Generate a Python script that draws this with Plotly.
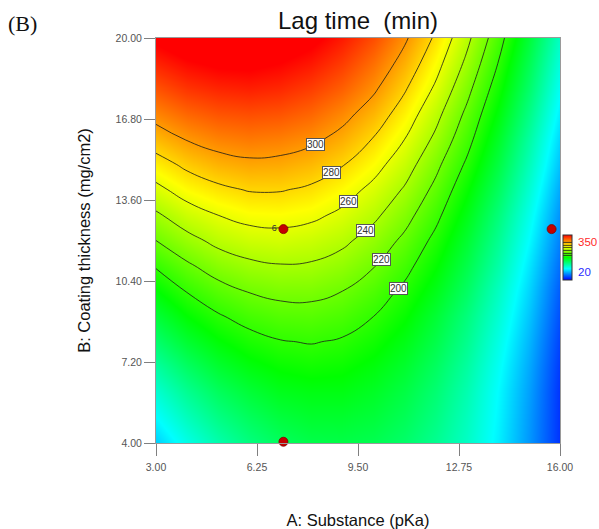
import numpy as np
import plotly.graph_objects as go

# A: Substance (pKa) grid values and B: Coating thickness (mg/cm2) grid values
substance_pka = [3, 4, 5, 6, 7, 8, 9, 10, 11, 12, 13, 14, 15, 16]
coating_thickness = [20, 19, 18, 17, 16, 15, 14, 13, 12, 11, 10, 9, 8, 7, 6, 5, 4]

# Lag time (min), estimated from the reference surface; rows follow coating_thickness
lag_time = [
    [354, 363, 367, 367, 363, 355, 342, 325, 303, 277, 245, 209, 167, 121],
    [339, 348, 353, 354, 350, 343, 331, 314, 293, 267, 236, 200, 159, 113],
    [323, 333, 338, 340, 337, 330, 319, 303, 282, 257, 226, 191, 151, 105],
    [307, 317, 323, 325, 323, 317, 306, 291, 271, 246, 216, 182, 142, 97],
    [290, 301, 308, 311, 309, 304, 294, 279, 260, 236, 207, 173, 133, 89],
    [272, 284, 292, 296, 295, 290, 281, 267, 249, 225, 197, 164, 125, 82],
    [255, 268, 276, 281, 281, 277, 268, 255, 238, 215, 187, 155, 117, 74],
    [237, 251, 260, 266, 267, 264, 256, 244, 227, 205, 178, 146, 109, 67],
    [220, 234, 245, 251, 253, 250, 244, 232, 216, 195, 169, 138, 102, 61],
    [202, 217, 229, 236, 239, 238, 232, 221, 206, 186, 161, 131, 95, 55],
    [184, 201, 213, 221, 225, 225, 220, 210, 196, 177, 153, 123, 89, 49],
    [167, 185, 198, 207, 212, 213, 209, 200, 187, 168, 145, 117, 84, 45],
    [150, 169, 183, 193, 199, 201, 198, 190, 178, 161, 139, 111, 79, 41],
    [133, 153, 169, 180, 187, 190, 188, 181, 170, 154, 133, 106, 75, 38],
    [117, 138, 155, 167, 176, 179, 179, 173, 163, 148, 128, 102, 72, 36],
    [102, 124, 142, 155, 165, 170, 170, 166, 157, 143, 124, 100, 70, 36],
    [87, 110, 129, 144, 155, 161, 162, 159, 151, 138, 121, 98, 69, 36],
]

# design points
design_a = [7.1, 7.1, 15.73]
design_b = [12.45, 4.05, 12.45]
design_labels = ["6", "", ""]

x_ticks = [3.00, 6.25, 9.50, 12.75, 16.00]
y_ticks = [4.00, 7.20, 10.40, 13.60, 16.80, 20.00]
color_min, color_max = 20, 350
contour_levels = [200, 220, 240, 260, 280, 300]

AX_FONT = "Arial, Liberation Sans, sans-serif"

# ---- contour label placement: where each level crosses a guide segment ----
_X = np.array(substance_pka, float)
_Y = np.array(coating_thickness[::-1], float)
_Z = np.array(lag_time[::-1], float)


def lag_at(a, b):
    i = int(min(max(np.searchsorted(_X, a) - 1, 0), len(_X) - 2))
    j = int(min(max(np.searchsorted(_Y, b) - 1, 0), len(_Y) - 2))
    tx = (a - _X[i]) / (_X[i + 1] - _X[i])
    ty = (b - _Y[j]) / (_Y[j + 1] - _Y[j])
    return (_Z[j, i] * (1 - tx) * (1 - ty) + _Z[j, i + 1] * tx * (1 - ty)
            + _Z[j + 1, i] * (1 - tx) * ty + _Z[j + 1, i + 1] * tx * ty)


guide_start, guide_end = (7.75, 16.65), (11.15, 9.35)
ts = np.linspace(0, 1, 600)
gx = guide_start[0] + (guide_end[0] - guide_start[0]) * ts
gy = guide_start[1] + (guide_end[1] - guide_start[1]) * ts
gv = np.array([lag_at(a, b) for a, b in zip(gx, gy)])

label_annotations = []
for lev in contour_levels:
    k = np.where((gv[:-1] - lev) * (gv[1:] - lev) <= 0)[0]
    if len(k) == 0:
        continue
    k = k[0]
    f = (lev - gv[k]) / (gv[k + 1] - gv[k]) if gv[k + 1] != gv[k] else 0
    label_annotations.append(dict(
        text=str(lev), x=gx[k] + f * (gx[k + 1] - gx[k]), y=gy[k] + f * (gy[k + 1] - gy[k]),
        xref="x", yref="y", showarrow=False, xanchor="center", yanchor="middle",
        bgcolor="white", bordercolor="#555555", borderwidth=1, borderpad=0,
        font=dict(family=AX_FONT, size=10, color="#333333")))

fig = go.Figure()
fig.add_trace(go.Contour(
    x=substance_pka, y=coating_thickness, z=lag_time,
    zmin=color_min, zmax=color_max,
    colorscale=[[0, "#0000ff"], [0.25, "#00ffff"], [0.5, "#00ff00"],
                [0.75, "#ffff00"], [1, "#ff0000"]],
    contours=dict(coloring="heatmap", start=contour_levels[0], end=contour_levels[-1],
                  size=contour_levels[1] - contour_levels[0], showlabels=False),
    line=dict(color="#1a1a1a", width=0.8, smoothing=1.3),
    colorbar=dict(x=1.007, xanchor="left", y=0.459, yanchor="middle",
                  lenmode="pixels", len=45, thickness=9,
                  showticklabels=False, ticks="",
                  outlinecolor="#333333", outlinewidth=1, xpad=0, ypad=0),
    hoverinfo="skip",
))
fig.add_trace(go.Scatter(
    x=design_a, y=design_b, mode="markers+text",
    text=design_labels, textposition="middle left",
    textfont=dict(family=AX_FONT, size=9, color="#333333"),
    marker=dict(size=9, color="#c40000", line=dict(color="#800000", width=0.8)),
    cliponaxis=False, showlegend=False, hoverinfo="skip",
))

W, H = 599, 529
fig.update_layout(
    width=W, height=H,
    margin=dict(l=156, r=39, t=38, b=86, autoexpand=False),
    paper_bgcolor="white", plot_bgcolor="white",
    showlegend=False,
    title=dict(text="Lag time\u00a0\u00a0(min)", x=0.5, xref="paper", xanchor="center",
               y=1 - 20.3 / H, yref="container", yanchor="middle",
               font=dict(family=AX_FONT, size=24, color="#111111")),
    xaxis=dict(range=[3, 16], tickvals=x_ticks, tickformat=".2f", automargin=False,
               ticks="outside", ticklen=12, tickcolor="#808080", tickwidth=1,
               ticklabelstandoff=2,
               showline=True, linecolor="#9a9a9a", linewidth=1, mirror=True,
               showgrid=False, zeroline=False,
               tickfont=dict(family=AX_FONT, size=10.5, color="#555555"),
               title=dict(text="A: Substance (pKa)", standoff=44,
                          font=dict(family=AX_FONT, size=16.5, color="#111111"))),
    yaxis=dict(range=[4, 20], tickvals=y_ticks, tickformat=".2f", automargin=False,
               ticks="outside", ticklen=11, tickcolor="#808080", tickwidth=1,
               showline=True, linecolor="#9a9a9a", linewidth=1, mirror=True,
               showgrid=False, zeroline=False,
               tickfont=dict(family=AX_FONT, size=10.5, color="#555555"),
               title=dict(text="B: Coating thickness (mg/cm2)", standoff=20,
                          font=dict(family=AX_FONT, size=16.5, color="#111111"))),
    annotations=label_annotations + [
        dict(text="(B)", xref="paper", yref="paper", x=-150 / 404, y=(443 - 23.3) / 405,
             xanchor="left", yanchor="middle", showarrow=False,
             font=dict(family="Times New Roman, Liberation Serif, serif", size=22, color="#111111")),
        dict(text=str(color_max), xref="paper", yref="paper", x=1 + 16 / 404, y=(443 - 242) / 405,
             xanchor="left", yanchor="middle", showarrow=False,
             font=dict(family=AX_FONT, size=11.5, color="#ff2a2a")),
        dict(text=str(color_min), xref="paper", yref="paper", x=1 + 16 / 404, y=(443 - 272) / 405,
             xanchor="left", yanchor="middle", showarrow=False,
             font=dict(family=AX_FONT, size=11.5, color="#2a2aff")),
    ],
)

fig.write_html("out.html", config={"displayModeBar": False},
               post_script="document.body.style.margin='0px';")
